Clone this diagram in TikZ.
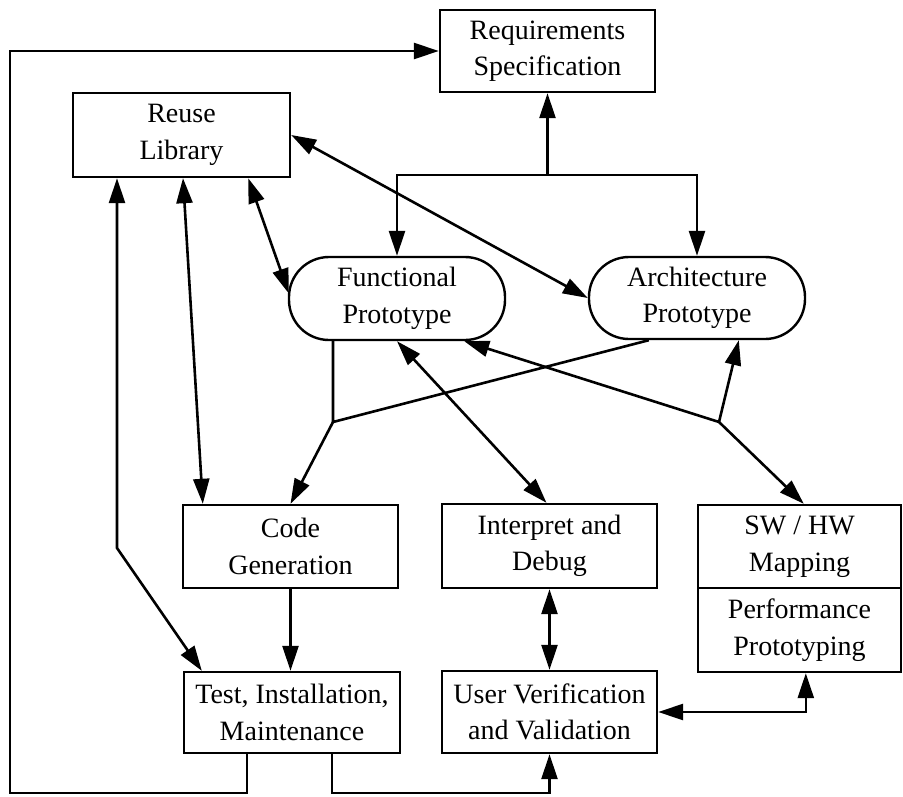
\documentclass[tikz,border=0pt]{standalone}
\usepackage{fontspec}
\setmainfont{Liberation Serif}
\usetikzlibrary{arrows.meta,calc}

\tikzset{
  every node/.style={font=\fontsize{28}{36.5}\selectfont, align=center},
  box/.style={draw, line width=2.4pt, rectangle, inner sep=0pt},
  pill/.style={draw, line width=2.4pt, rectangle, rounded corners=40pt, inner sep=0pt},
  link/.style={line width=2.6pt},
  tip/.tip={Triangle[length=25pt,width=16pt]},
  fwd/.style={link, -tip},
  both/.style={link, tip-tip}
}

\begin{document}
\begin{tikzpicture}[x=1pt,y=-1pt]
  \fill[white] (0,0) rectangle (903,796);
  \useasboundingbox (0,0) rectangle (903,796);

  % process boxes
  \node[box, minimum width=215pt, minimum height=82pt] (req) at (547.5,51) {Requirements\\Specification};
  \node[box, minimum width=217pt, minimum height=84pt] (reuse) at (181.5,135) {Reuse\\Library};
  \node[pill, minimum width=216pt, minimum height=83pt] (fp) at (397,298.5) {Functional\\Prototype};
  \node[pill, minimum width=216pt, minimum height=82pt] (ap) at (697,298) {Architecture\\Prototype};
  \node[box, minimum width=215pt, minimum height=83pt] (cg) at (290.5,546.5) {Code\\Generation};
  \node[box, minimum width=215pt, minimum height=84pt] (id) at (549.5,546) {Interpret and\\Debug};
  \node[box, minimum width=203pt, minimum height=83pt] (sw) at (799.5,546.5) {SW / HW\\Mapping};
  \node[box, minimum width=203pt, minimum height=84pt] (pp) at (799.5,630) {Performance\\Prototyping};
  \node[box, minimum width=216pt, minimum height=81pt] (tim) at (292,712.5) {Test, Installation,\\Maintenance};
  \node[box, minimum width=215pt, minimum height=82pt] (uvv) at (549.5,712) {User Verification\\and Validation};

  % junction points
  \coordinate (jT) at (547.5,175);
  \coordinate (jC) at (117,548);
  \coordinate (jL) at (333,422);
  \coordinate (jR) at (719,422);
  \coordinate (bl) at (10,793);
  \coordinate (br) at (549.5,793);

  % requirements fan-out
  \draw[fwd] (jT) -- (req.south);
  \draw[fwd] (jT) -| (fp.north);
  \draw[fwd] (jT) -| (ap.north);

  % reuse library links
  \draw[both] (reuse.east) -- (ap.west);
  \draw[both] ($(reuse.south east)+(-43,0)$) -- ($(fp.west)+(1,-5)$);
  \draw[both] ($(reuse.south)+(1.5,0)$) -- ($(cg.north west)+(21,0)$);
  \draw[both] (reuse.south -| jC) -- (jC) -- ($(tim.north west)+(19,0)$);

  % prototypes to code generation
  \draw[link] (fp.south -| jL) -- (jL) -- ($(ap.south west)+(61,0)$);
  \draw[fwd] (jL) -- (cg.north);

  % functional prototype and interpreter
  \draw[both] (fp.south) -- ($(id.north)+(-3,0)$);

  % mapping junction
  \draw[fwd] (jR) -- ($(fp.south east)+(-42,0)$);
  \draw[fwd] (jR) -- ($(ap.south west)+(151,0)$);
  \draw[fwd] (jR) -- ($(sw.north west)+(107,0)$);

  % lower flow
  \draw[both] (id.south) -- (uvv.north);
  \draw[fwd] (cg.south) -- (cg.south |- tim.north);
  \draw[both] ($(pp.south west)+(109,0)$) |- (uvv.east);

  % feedback loops from test and maintenance
  \draw[fwd] ($(tim.south west)+(64,0)$) |- (bl) |- (req.west);
  \draw[fwd] ($(tim.south west)+(149,0)$) |- (br) -- (uvv.south);
\end{tikzpicture}
\end{document}
